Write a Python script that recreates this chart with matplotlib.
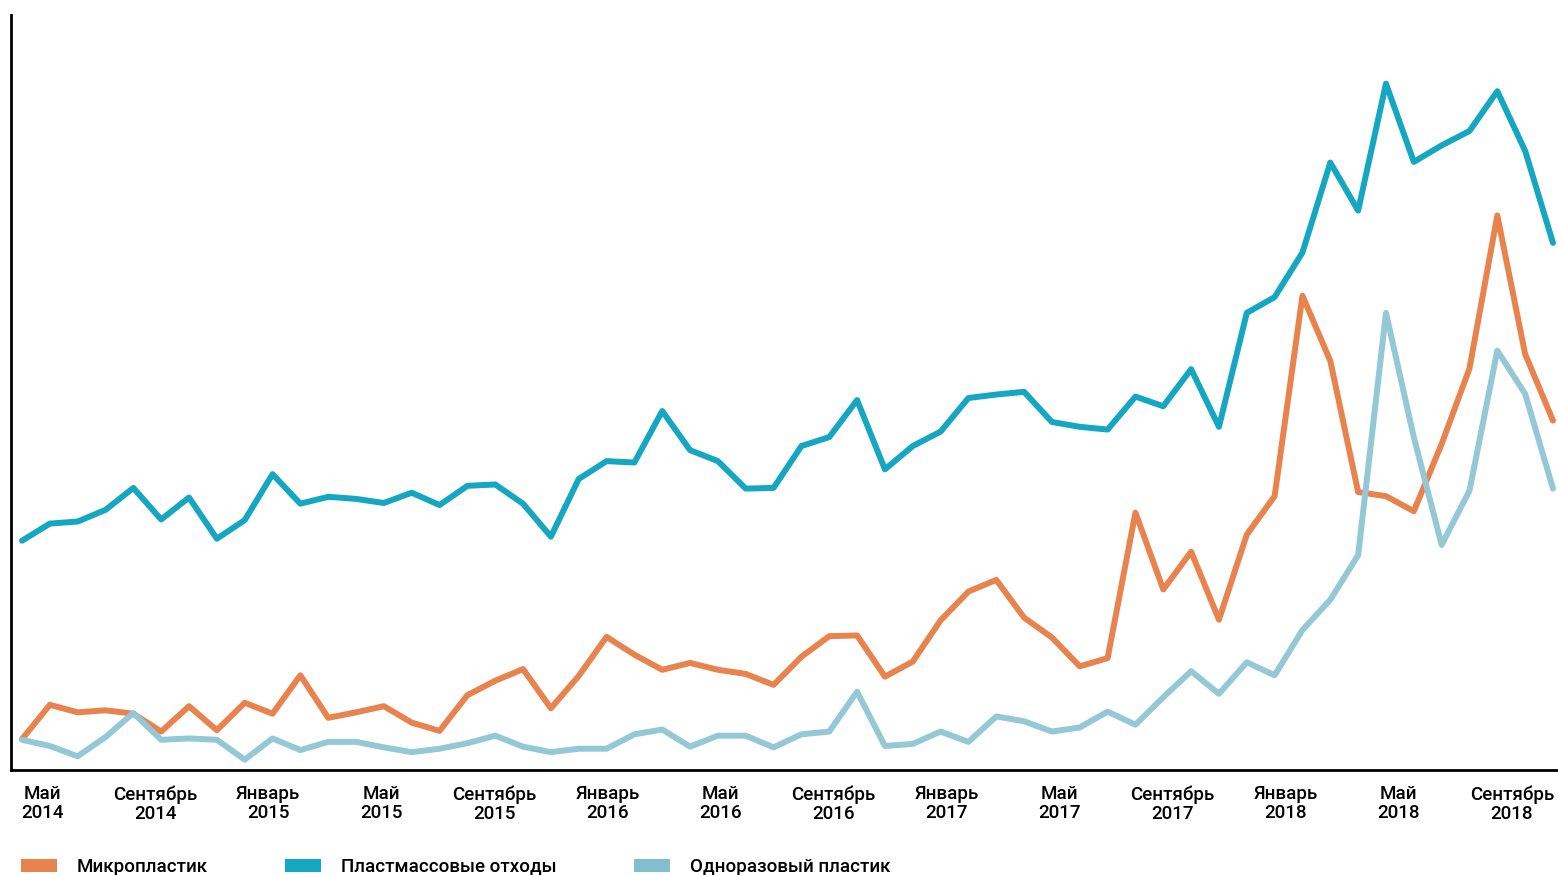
import numpy as np
import matplotlib
matplotlib.use("Agg")
import matplotlib.pyplot as plt
from matplotlib.patches import Patch

# monthly interest, index 0 = first month shown
micro = [4.5, 9.5, 8.4, 8.7, 8.2, 5.6, 9.3, 5.8, 9.8, 8.2,
         13.8, 7.6, 8.4, 9.3, 6.9, 5.7, 10.9, 13.0, 14.7, 9.0,
         13.7, 19.4, 16.8, 14.6, 15.6, 14.6, 14.0, 12.4, 16.5, 19.5,
         19.6, 13.6, 15.8, 21.8, 26.0, 27.7, 22.2, 19.3, 15.1, 16.3,
         37.5, 26.3, 31.8, 21.9, 34.3, 39.9, 69.1, 59.6, 40.5, 39.9,
         37.7, 47.5, 58.5, 80.8, 60.6, 50.9]
waste = [33.4, 35.9, 36.2, 37.9, 41.1, 36.5, 39.7, 33.7, 36.4, 43.1,
         38.8, 39.8, 39.5, 38.9, 40.4, 38.6, 41.4, 41.6, 38.8, 34.0,
         42.4, 45.0, 44.8, 52.3, 46.6, 45.0, 41.0, 41.1, 47.2, 48.5,
         53.9, 43.8, 47.2, 49.3, 54.2, 54.7, 55.1, 50.7, 50.0, 49.6,
         54.4, 53.0, 58.4, 50.0, 66.6, 68.9, 75.4, 88.5, 81.5, 100.0,
         88.6, 91.0, 93.1, 98.9, 90.2, 76.8]
single_use = [4.4, 3.5, 2.0, 4.8, 8.3, 4.4, 4.6, 4.4, 1.5, 4.6,
              2.9, 4.1, 4.1, 3.3, 2.6, 3.1, 3.9, 5.0, 3.4, 2.6,
              3.1, 3.1, 5.2, 5.9, 3.4, 5.0, 5.0, 3.3, 5.2, 5.6,
              11.4, 3.5, 3.8, 5.6, 4.1, 7.8, 7.1, 5.6, 6.2, 8.5,
              6.6, 10.6, 14.4, 11.1, 15.7, 13.8, 20.4, 24.8, 31.3, 66.6,
              48.5, 32.8, 40.7, 61.1, 54.8, 41.0]

tick_labels = ["Май\n2014", "Сентябрь\n2014", "Январь\n2015",
               "Май\n2015", "Сентябрь\n2015", "Январь\n2016",
               "Май\n2016", "Сентябрь\n2016", "Январь\n2017",
               "Май\n2017", "Сентябрь\n2017", "Январь\n2018",
               "Май\n2018", "Сентябрь\n2018"]
names = ["Микропластик", "Пластмассовые отходы", "Одноразовый пластик"]
colors = ["#E8834E", "#15A7C1", "#94C8D6"]
legend_colors = ["#E8834E", "#15A7C1", "#82BECE"]

plt.rcParams["font.family"] = ["Roboto", "DejaVu Sans"]

fig = plt.figure(figsize=(15.58, 8.75), dpi=100)
ax = fig.add_axes([11 / 1558, 1 - 770 / 875, 1 - 11 / 1558, (770 - 15) / 875])

x = np.arange(len(waste))
for ys, c in zip([micro, waste, single_use], colors):
    ax.plot(x, ys, color=c, lw=4.3, solid_capstyle="round", solid_joinstyle="round")

ax.set_xlim(-0.395, 55.18)
ax.set_ylim(0, 110)

for s in ["top", "right"]:
    ax.spines[s].set_visible(False)
for s in ["left", "bottom"]:
    ax.spines[s].set_linewidth(2)
    ax.spines[s].set_color("black")

ax.set_yticks([])
ax.set_xticks(np.linspace(0.72, 53.52, len(tick_labels)))
ax.set_xticklabels(tick_labels, fontsize=13.5, fontweight="medium",
                   linespacing=1.08, ha="center")
ax.tick_params(axis="x", length=0, pad=11)

handles = [Patch(facecolor=c, edgecolor="none") for c in legend_colors]
fig.legend(handles, names, loc="center left",
           bbox_to_anchor=(21 / 1558, 1 - 867 / 875), ncol=3, frameon=False,
           prop={"size": 13.5, "weight": "medium"},
           handlelength=1.92, handleheight=0.75, handletextpad=1.07,
           columnspacing=4.1, borderpad=0, borderaxespad=0)

fig.savefig("out.png", dpi=100)
